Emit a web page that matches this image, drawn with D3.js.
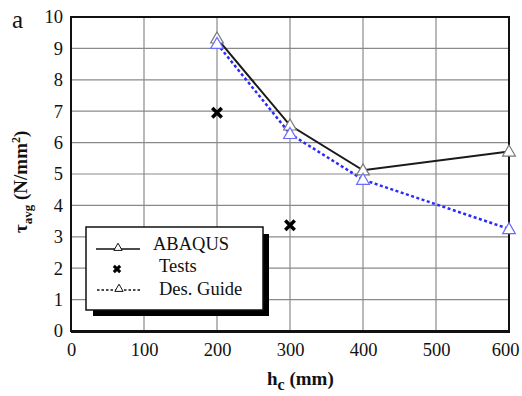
<!DOCTYPE html>
<html><head><meta charset="utf-8">
<script src="https://cdn.jsdelivr.net/npm/d3@7"></script>
<style>body{margin:0;background:#fff}svg{display:block}
text{font-family:"Liberation Serif","Times New Roman",Tinos,"DejaVu Serif","Noto Serif",serif !important;}</style>
</head><body>
<svg id="c" width="522" height="396"></svg>
<script>
const hc = [200, 300, 400, 600];
const abaqus = [9.32, 6.55, 5.12, 5.72];
const desGuide = [9.15, 6.28, 4.82, 3.25];
const testsX = [200, 300];
const testsY = [6.95, 3.37];
const xTicks = [0, 100, 200, 300, 400, 500, 600];
const yTicks = [0,1,2,3,4,5,6,7,8,9,10];

const svg = d3.select("#c");
const x = d3.scaleLinear().domain([0,600]).range([71,509]);
const y = d3.scaleLinear().domain([0,10]).range([331,17]);

// grid
const g = svg.append("g");
g.selectAll("line.vx").data(xTicks.slice(1,-1)).join("line")
  .attr("x1",d=>x(d)).attr("x2",d=>x(d)).attr("y1",y(0)).attr("y2",y(10))
  .attr("stroke","#8a8a8a").attr("stroke-width",1.2);
g.selectAll("line.hy").data(yTicks.slice(1,-1)).join("line")
  .attr("x1",x(0)).attr("x2",x(600)).attr("y1",d=>y(d)).attr("y2",d=>y(d))
  .attr("stroke","#8a8a8a").attr("stroke-width",1.2);

// axes
const xa = svg.append("g").attr("transform",`translate(0,${y(0)})`)
  .call(d3.axisBottom(x).tickValues(xTicks).tickSize(0).tickPadding(12));
const ya = svg.append("g").attr("transform",`translate(${x(0)},0)`)
  .call(d3.axisLeft(y).tickValues(yTicks).tickSize(0).tickPadding(8));
[xa, ya].forEach(a => {
  a.select(".domain").remove();
  a.selectAll("text").attr("font-size",18.5).attr("fill","#111");
});
xa.selectAll("text").filter(d => d === 600).attr("dx", -4);
// frame
svg.append("rect").attr("x",x(0)).attr("y",y(10)).attr("width",x(600)-x(0)).attr("height",y(0)-y(10))
  .attr("fill","none").attr("stroke","#111").attr("stroke-width",2);
svg.append("line").attr("x1",x(0)).attr("x2",x(600)+1).attr("y1",y(0)+0.5).attr("y2",y(0)+0.5)
  .attr("stroke","#111").attr("stroke-width",3);

// lines
const lineGen = d3.line().x(d=>x(d[0])).y(d=>y(d[1]));
const abData = hc.map((h,i)=>[h,abaqus[i]]);
const dgData = hc.map((h,i)=>[h,desGuide[i]]);
svg.append("path").datum(abData).attr("d",lineGen).attr("fill","none").attr("stroke","#1a1a1a").attr("stroke-width",2);
svg.append("path").datum(dgData).attr("d",lineGen).attr("fill","none").attr("stroke","#2a2aff").attr("stroke-width",2.5).attr("stroke-dasharray","3,2.5");

const tri = d3.symbol().type(d3.symbolTriangle).size(70);
svg.selectAll("path.ab").data(abData).join("path").attr("class","ab")
  .attr("d",tri).attr("transform",d=>`translate(${x(d[0])},${y(d[1])+1})`)
  .attr("fill","#fff").attr("stroke","#777").attr("stroke-width",1.2);
svg.selectAll("path.dg").data(dgData).join("path").attr("class","dg")
  .attr("d",tri).attr("transform",d=>`translate(${x(d[0])},${y(d[1])+1})`)
  .attr("fill","#fff").attr("stroke","#6a6aff").attr("stroke-width",1.2);

const cross = d3.symbol().type(d3.symbolX).size(60);
svg.selectAll("path.ts").data(testsX.map((h,i)=>[h,testsY[i]])).join("path")
  .attr("d",cross).attr("transform",d=>`translate(${x(d[0])},${y(d[1])})`)
  .attr("fill","none").attr("stroke","#000").attr("stroke-width",3.5);

// legend
const lg = svg.append("g");
lg.append("rect").attr("x",93).attr("y",234).attr("width",176).attr("height",82).attr("fill","#000");
lg.append("rect").attr("x",86).attr("y",227).attr("width",177).attr("height",83).attr("fill","#fff").attr("stroke","#111").attr("stroke-width",1.5);
lg.append("line").attr("x1",96).attr("x2",140).attr("y1",249).attr("y2",249).attr("stroke","#111").attr("stroke-width",1.5);
lg.append("path").attr("d",d3.symbol().type(d3.symbolTriangle).size(30)).attr("transform","translate(118,248)").attr("fill","#fff").attr("stroke","#111").attr("stroke-width",1);
lg.append("path").attr("d",d3.symbol().type(d3.symbolX).size(28)).attr("transform","translate(117,269)").attr("stroke","#000").attr("stroke-width",3);
lg.append("line").attr("x1",97).attr("x2",142).attr("y1",290).attr("y2",290).attr("stroke","#111").attr("stroke-width",1.5).attr("stroke-dasharray","2.5,2");
lg.append("path").attr("d",d3.symbol().type(d3.symbolTriangle).size(30)).attr("transform","translate(119,289)").attr("fill","#fff").attr("stroke","#111").attr("stroke-width",1);
const lt = [["ABAQUS",153,250],["Tests",159,272],["Des. Guide",159,295]];
lg.selectAll("text").data(lt).join("text").attr("x",d=>d[1]).attr("y",d=>d[2]).text(d=>d[0])
  .attr("font-size",18.5).attr("fill","#111");

// labels
svg.append("text").attr("x",12).attr("y",28).text("a").attr("font-size",25).attr("fill","#111");
const yl = svg.append("text").attr("transform","translate(27,233) rotate(-90)")
  .attr("font-size",19).attr("font-weight","bold").attr("fill","#111");
yl.append("tspan").text("τ");
yl.append("tspan").attr("dy",5).attr("font-size",13).text("avg");
yl.append("tspan").attr("dy",-5).text(" (N/mm");
yl.append("tspan").attr("dy",-7).attr("font-size",12).text("2");
yl.append("tspan").attr("dy",7).text(")");
const xl = svg.append("text").attr("x",267).attr("y",385)
  .attr("font-size",19).attr("font-weight","bold").attr("fill","#111");
xl.append("tspan").text("h");
xl.append("tspan").attr("dy",5).attr("font-size",16).text("c");
xl.append("tspan").attr("dy",-5).text(" (mm)");
</script>
</body></html>
